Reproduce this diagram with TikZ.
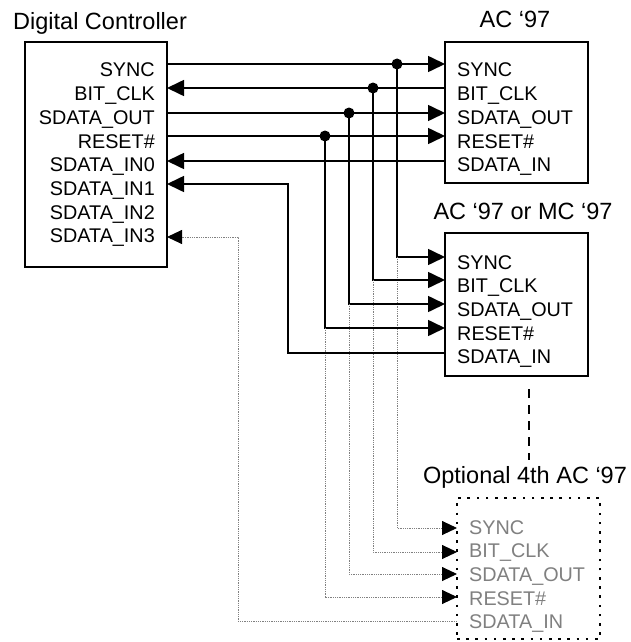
\documentclass[tikz,border=0pt]{standalone}
\usepackage{fontspec}
\setmainfont{Liberation Sans}
\usepackage{xcolor}
\usetikzlibrary{arrows.meta}
\definecolor{optgray}{RGB}{128, 128, 128}

\begin{document}
\begin{tikzpicture}[
    x=1pt, y=-1pt,
    chip/.style={draw, line width=1.6pt, inner sep=0pt},
    optchip/.style={draw, line width=2.6pt, dash pattern=on 2.6pt off 6.6pt,
                    inner sep=0pt},
    ttl/.style={anchor=base, inner sep=0pt, font=\fontsize{23.5}{27}\selectfont},
    pinr/.style={anchor=base east, inner sep=0pt, font=\fontsize{19.8}{23}\selectfont},
    pinl/.style={anchor=base west, inner sep=0pt, font=\fontsize{19.8}{23}\selectfont},
    sig/.style={line width=1.6pt},
    opt/.style={optgray, line width=0.9pt, dash pattern=on 1pt off 0.8pt},
    arr/.style={-{Triangle[length=17pt, width=16pt]}},
    oarr/.style={-{Triangle[length=15pt, width=14pt, color=black, fill=black]}},
    jdot/.style={circle, fill, inner sep=0pt, minimum size=11pt},
  ]
    \fill[white] (0,0) rectangle (631,642);

    % chips
    \node[chip, minimum width=142pt, minimum height=225pt] (dc) at (96,154.5) {};
    \node[chip, minimum width=143pt, minimum height=141pt] (a1) at (516.5,112.5) {};
    \node[chip, minimum width=143pt, minimum height=143pt] (a2) at (516.5,304.5) {};
    \node[optchip, minimum width=143pt, minimum height=141pt] (a3) at (528.5,568.5) {};

    \node[ttl, anchor=base west] (dc-title) at (13,29.5) {Digital Controller};
    \node[ttl] (a1-title) at (515,27.5) {AC ‘97};
    \node[ttl] (a2-title) at (523,219) {AC ‘97 or MC ‘97};
    \node[ttl] (a3-title) at (525,483) {Optional 4th AC ‘97};

    % pins
    \foreach \nm/\txt/\yl/\yb in {sync/SYNC/64/77, bclk/BIT\_CLK/88/100.7,
        sout/SDATA\_OUT/113/124.4, rst/RESET\#/136/148.1,
        in0/SDATA\_IN0/161/171.8, in1/SDATA\_IN1/184/195.5,
        in2/SDATA\_IN2/208/219.2, in3/SDATA\_IN3/237/242.9} {
      \coordinate (dc-\nm) at (167,\yl);
      \node[pinr] (dc-\nm-lab) at (155,\yb) {\txt};
    }
    \foreach \nm/\txt/\ya/\yb/\yc/\ba/\bb/\bc in {
        sync/SYNC/64/257/528/77/269/534,
        bclk/BIT\_CLK/88/280/552/100.5/292.7/557.7,
        sout/SDATA\_OUT/113/304/574/124/316.4/581.4,
        rst/RESET\#/136/328/597/148/340.1/605.1,
        in/SDATA\_IN/161/353/621/171.5/363.8/628.8} {
      \coordinate (a1-\nm) at (445,\ya);
      \coordinate (a2-\nm) at (445,\yb);
      \coordinate (a3-\nm) at (457,\yc);
      \node[pinl] (a1-\nm-lab) at (457,\ba) {\txt};
      \node[pinl] (a2-\nm-lab) at (457,\bb) {\txt};
      \node[pinl, optgray] (a3-\nm-lab) at (469,\bc) {\txt};
    }

    % junctions
    \node[jdot] (j-sync) at (397,64) {};
    \node[jdot] (j-bclk) at (373,88) {};
    \node[jdot] (j-sout) at (349,113) {};
    \node[jdot] (j-rst) at (325,136) {};
    \coordinate (bend-in1) at (288,184);
    \coordinate (bend-in3) at (238,237);

    % main bus
    \draw[sig, arr] (dc-sync) -- (a1-sync);
    \draw[sig, arr] (a1-bclk) -- (dc-bclk);
    \draw[sig, arr] (dc-sout) -- (a1-sout);
    \draw[sig, arr] (dc-rst) -- (a1-rst);
    \draw[sig, arr] (a1-in) -- (dc-in0);

    % second codec
    \foreach \nm in {sync, bclk, sout, rst} {
      \draw[sig, arr] (j-\nm.center) |- (a2-\nm);
      \draw[opt, oarr] (j-\nm.center |- a2-\nm) |- (a3-\nm);
    }
    \draw[sig, arr] (a2-in) -| (bend-in1) -- (dc-in1);

    % optional codec
    \draw[opt, oarr] (a3-in) -| (bend-in3) -- (dc-in3);

    \coordinate (gap-top) at (529,389);
    \coordinate (gap-bot) at (529,460);
    \draw[line width=2.6pt, dash pattern=on 9pt off 7pt] (gap-top) -- (gap-bot);
\end{tikzpicture}
\end{document}
